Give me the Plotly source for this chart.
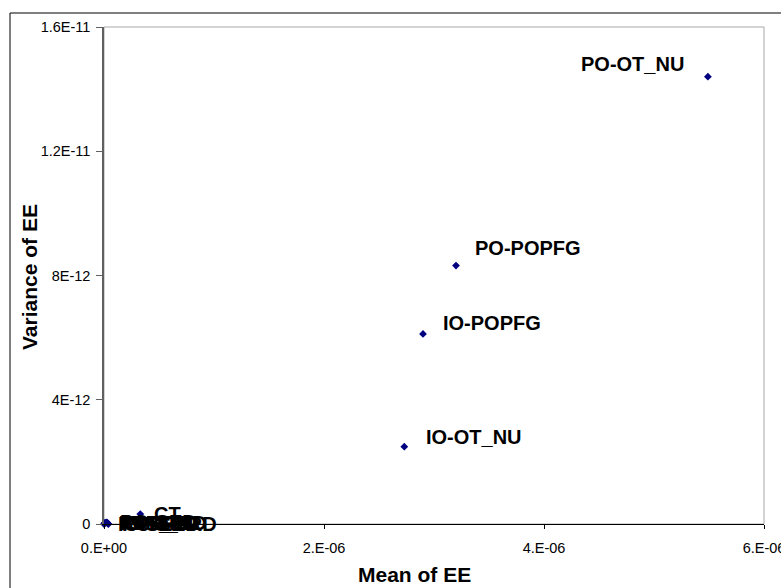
import plotly.graph_objects as go

# Morris screening results: mean and variance of elementary effects (EE)
names = ["PO-OT_NU", "PO-POPFG", "IO-POPFG", "IO-OT_NU", "CT",
         "PO-FRD", "PO-SRD", "IO-SRD", "IO-FRD", "PO-SED", "PO-T_RD",
         "IO-T_RD", "IO-SED"]
mean_ee = [5.49e-6, 3.20e-6, 2.90e-6, 2.73e-6, 3.3e-7,
           2.0e-7, 4.0e-8, 3.5e-8, 3.0e-8, 2.0e-8, 1.0e-8,
           5.0e-9, 0.0]
var_ee = [1.44e-11, 8.32e-12, 6.12e-12, 2.49e-12, 3.2e-13,
          1.0e-14, 0.0, 2.0e-14, 4.0e-14, 5.0e-14, 4.0e-14,
          2.0e-14, 0.0]

x_ticks = [0, 2e-6, 4e-6, 6e-6]
x_tick_text = ["0.E+00", "2.E-06", "4.E-06", "6.E-06"]
y_ticks = [0, 4e-12, 8e-12, 1.2e-11, 1.6e-11]
y_tick_text = ["0", "4E-12", "8E-12", "1.2E-11", "1.6E-11"]

# label placement relative to each point: (anchor, dx px, dy px)
label_offsets = [("right", -22, 13), ("left", 17, 18), ("left", 18, 11),
                 ("left", 20, 10), ("left", 12, 0)] + [("left", 12, 0)] * 8

W, H = 781, 588
L, R, T, B = 104, 17, 27, 64
pw, ph = W - L - R, H - T - B

FONT = "Liberation Sans, Arial, sans-serif"

fig = go.Figure()
fig.add_trace(go.Scatter(
    x=mean_ee, y=var_ee, mode="markers",
    marker=dict(symbol="diamond", size=6, color="#000080",
                line=dict(width=0)),
    cliponaxis=False, showlegend=False, hoverinfo="text", text=names,
))

annotations = []
for name, xv, yv, (anc, dx, dy) in zip(names, mean_ee, var_ee, label_offsets):
    annotations.append(dict(
        x=xv, y=yv, xref="x", yref="y", text=name, showarrow=False,
        xanchor=anc, yanchor="middle", xshift=dx, yshift=dy,
        font=dict(family=FONT, size=20, color="black", weight="bold"),
    ))

# axis titles
annotations.append(dict(
    x=(414 - L) / pw, y=(H - B - 574) / ph, xref="paper", yref="paper",
    text="Mean of EE", showarrow=False, xanchor="center", yanchor="middle",
    font=dict(family=FONT, size=21, color="black", weight="bold"),
))
annotations.append(dict(
    x=(29 - L) / pw, y=(H - B - 277) / ph, xref="paper", yref="paper",
    text="Variance of EE", showarrow=False, xanchor="center", yanchor="middle",
    textangle=-90,
    font=dict(family=FONT, size=21, color="black", weight="bold"),
))

shapes = [
    # plot-area frame
    dict(type="rect", xref="paper", yref="paper", x0=0, x1=1, y0=0, y1=1,
         line=dict(color="#a8a8a8", width=1), layer="below"),
    # outer chart frame (runs off the right and bottom edges)
    dict(type="rect", xref="paper", yref="paper",
         x0=(10 - L) / pw, x1=(W + 4 - L) / pw,
         y0=(H - B - (H + 4)) / ph, y1=(H - B - 13) / ph,
         line=dict(color="black", width=1), layer="below"),
]

fig.update_layout(
    width=W, height=H,
    margin=dict(l=L, r=R, t=T, b=B, pad=0, autoexpand=False),
    paper_bgcolor="white", plot_bgcolor="white",
    font=dict(family=FONT, color="black"),
    annotations=annotations, shapes=shapes,
    xaxis=dict(
        range=[0, 6e-6], tickmode="array", tickvals=x_ticks,
        ticktext=x_tick_text, showgrid=False, zeroline=False,
        showline=True, linecolor="black", linewidth=1,
        ticks="outside", ticklen=4, tickcolor="black",
        ticklabelstandoff=7, ticklabeloverflow="allow", automargin=False,
        tickfont=dict(size=14.5, family=FONT),
    ),
    yaxis=dict(
        range=[0, 1.6e-11], tickmode="array", tickvals=y_ticks,
        ticktext=y_tick_text, showgrid=False, zeroline=False,
        showline=True, linecolor="#606060", linewidth=1.5,
        ticks="outside", ticklen=6, tickcolor="#606060",
        ticklabelstandoff=3, ticklabeloverflow="allow", automargin=False,
        tickfont=dict(size=14.5, family=FONT),
    ),
)

fig.write_html("out.html")
